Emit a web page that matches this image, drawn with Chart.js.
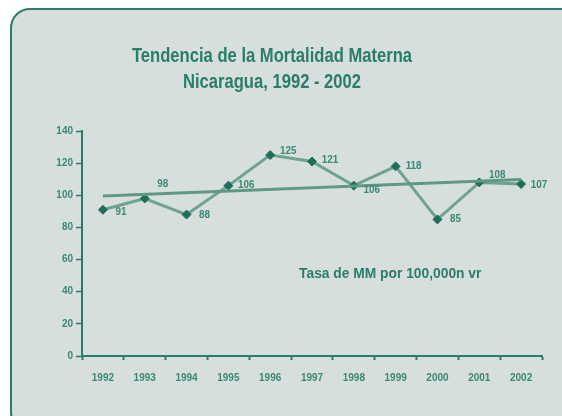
<!DOCTYPE html>
<html>
<head>
<meta charset="utf-8">
<script src="https://cdn.jsdelivr.net/npm/chart.js@4"></script>
<style>
  html, body { margin: 0; padding: 0; background: #ffffff; overflow: hidden; }
  #wrap { position: relative; width: 562px; height: 416px; }
  #panel {
    position: absolute; left: 10px; top: 8px; width: 580px; height: 420px;
    background: #d6dfdc; border: 2px solid #2b7c69; border-radius: 20px;
  }
  #chart { position: absolute; left: 0; top: 0; }
</style>
</head>
<body>
<div id="wrap">
  <div id="panel"></div>
  <canvas id="chart" width="562" height="416"></canvas>
</div>
<script>
// ---- data ----
const years = ['1992', '1993', '1994', '1995', '1996', '1997', '1998', '1999', '2000', '2001', '2002'];
const mmRate = [91, 98, 88, 106, 125, 121, 106, 118, 85, 108, 107];
// trend line, read at its two ends
const trend = [99.5, null, null, null, null, null, null, null, null, null, 109.8];
const yTicks = [0, 20, 40, 60, 80, 100, 120, 140];

const titleLines = ['Tendencia de la Mortalidad Materna', 'Nicaragua, 1992 - 2002'];
const noteText = 'Tasa de MM por 100,000n vr';

// vertical nudge of each value label (style only)
const labelDy = [2, -15, 0, -1, -4, -2, 4, 0, 0, -7, 1];

const TEAL = '#2a7d69';
const FONT = "'Liberation Sans', Arial, sans-serif";

// condensed text helper: the reference uses a narrow face
function narrowText(ctx, text, x, y, squeeze) {
    ctx.save();
    ctx.translate(x, y);
    ctx.scale(squeeze, 1);
    ctx.fillText(text, 0, 0);
    ctx.restore();
}

// title, value labels and the series note
const textLayer = {
    id: 'textLayer',
    afterDraw(chart) {
        const ctx = chart.ctx;
        ctx.save();
        // title
        ctx.fillStyle = TEAL;
        ctx.font = 'bold 20px ' + FONT;
        ctx.textAlign = 'center';
        ctx.textBaseline = 'alphabetic';
        narrowText(ctx, titleLines[0], 272, 62, 0.83);
        narrowText(ctx, titleLines[1], 272, 88, 0.83);

        // value labels
        const meta = chart.getDatasetMeta(1);
        ctx.fillStyle = '#3b8874';
        ctx.font = 'bold 11px ' + FONT;
        ctx.textBaseline = 'middle';
        meta.data.forEach((pt, i) => {
            narrowText(ctx, String(mmRate[i]), pt.x + 18, pt.y + labelDy[i], 0.9);
        });

        // series note, placed in value space
        const xs = chart.scales.x;
        const ys = chart.scales.y;
        ctx.font = 'bold 15px ' + FONT;
        ctx.fillStyle = TEAL;
        ctx.textAlign = 'left';
        narrowText(ctx, noteText, (xs.getPixelForValue(4) + xs.getPixelForValue(5)) / 2 + 8, ys.getPixelForValue(51), 0.92);
        ctx.restore();
    }
};

const ctx = document.getElementById('chart').getContext('2d');
new Chart(ctx, {
    type: 'line',
    data: {
        labels: years,
        datasets: [{
            label: 'Tendencia',
            data: trend,
            spanGaps: true,
            borderColor: '#5f9885',
            borderWidth: 3,
            pointRadius: 0,
            tension: 0
        }, {
            label: noteText,
            data: mmRate,
            borderColor: '#6fa291',
            borderWidth: 3,
            pointStyle: 'rectRot',
            pointRadius: 4.5,
            pointBackgroundColor: '#1f6e5a',
            pointBorderColor: '#1f6e5a',
            pointBorderWidth: 1,
            tension: 0
        }]
    },
    options: {
        responsive: false,
        animation: false,
        layout: {
            padding: { left: 0, right: 20, top: 131, bottom: 0 }
        },
        plugins: {
            legend: { display: false },
            tooltip: { enabled: false },
            title: { display: false }
        },
        scales: {
            x: {
                offset: true,
                grid: {
                    offset: true,
                    drawOnChartArea: false,
                    drawTicks: true,
                    tickLength: 4,
                    tickWidth: 2,
                    color: TEAL
                },
                border: { display: true, color: TEAL, width: 2 },
                ticks: {
                    color: '#3b8874',
                    font: { family: FONT, size: 10, weight: 'bold' },
                    padding: 12,
                    maxRotation: 0,
                    autoSkip: false
                },
                afterFit(scale) { scale.height = 60; }
            },
            y: {
                min: yTicks[0],
                max: yTicks[yTicks.length - 1],
                grid: {
                    drawOnChartArea: false,
                    drawTicks: true,
                    tickLength: 6,
                    tickWidth: 1.5,
                    color: TEAL
                },
                border: { display: true, color: TEAL, width: 2 },
                afterBuildTicks(scale) {
                    scale.ticks = yTicks.map(v => ({ value: v }));
                },
                ticks: {
                    color: '#3b8874',
                    font: { family: FONT, size: 10, weight: 'bold' },
                    padding: 3
                },
                afterFit(scale) { scale.width = 82; }
            }
        }
    },
    plugins: [textLayer]
});
</script>
</body>
</html>
